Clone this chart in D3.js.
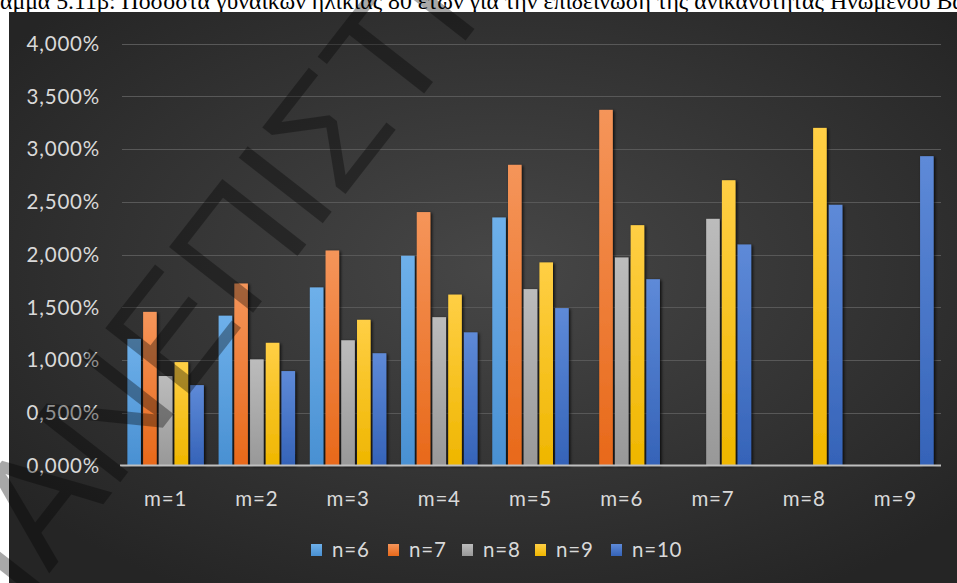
<!DOCTYPE html>
<html><head><meta charset="utf-8">
<script src="https://cdn.jsdelivr.net/npm/d3@7"></script>
<style>html,body{margin:0;padding:0;background:#fff;overflow:hidden}</style>
</head><body>
<svg id="c" width="957" height="583"></svg>
<script>
const categories = ["m=1","m=2","m=3","m=4","m=5","m=6","m=7","m=8","m=9"];
const seriesNames = ["n=6","n=7","n=8","n=9","n=10"];
const n6  = [1.200, 1.420, 1.688, 1.988, 2.351, null, null, null, null];
const n7  = [1.456, 1.725, 2.038, 2.402, 2.850, 3.371, null, null, null];
const n8  = [0.848, 1.006, 1.187, 1.406, 1.672, 1.972, 2.338, null, null];
const n9  = [0.980, 1.163, 1.381, 1.620, 1.925, 2.278, 2.704, 3.200, null];
const n10 = [0.762, 0.895, 1.064, 1.262, 1.492, 1.766, 2.095, 2.471, 2.932];
const yTicks = [0, 0.5, 1, 1.5, 2, 2.5, 3, 3.5, 4];
const seriesValues = [n6, n7, n8, n9, n10];
const colorsTop = ["#6eb0ea","#f5955a","#bcbcbc","#ffcf45","#5e8ad8"];
const colorsBot = ["#4990d2","#e8691a","#989898","#efb600","#3563b8"];
const titleText = "Διάγραμμα 5.11β: Ποσοστά γυναικών ηλικίας 80 ετών για την επιδείνωση της ανικανότητας Ηνωμένου Βασιλείου";
const watermark = "ΠΑΝΕΠΙΣΤΗΜΙΟ ΠΕΙΡΑΙΩΣ";

const svg = d3.select("#c");
const W = 957, H = 583;
const defs = svg.append("defs");
const FONT = "Lato", FS = 20.5, LS = 0.8;

const rg = defs.append("radialGradient").attr("id","bg").attr("cx","52%").attr("cy","45%").attr("r","65%");
rg.append("stop").attr("offset","0%").attr("stop-color","#474747");
rg.append("stop").attr("offset","100%").attr("stop-color","#252525");

seriesNames.forEach((s,i)=>{
  const lg = defs.append("linearGradient").attr("id","g"+i).attr("x1",0).attr("y1",0).attr("x2",0).attr("y2",1);
  lg.append("stop").attr("offset","0%").attr("stop-color",colorsTop[i]);
  lg.append("stop").attr("offset","100%").attr("stop-color",colorsBot[i]);
});
const f = defs.append("filter").attr("id","sh").attr("x","-50%").attr("y","-10%").attr("width","200%").attr("height","120%");
f.append("feDropShadow").attr("dx",1.5).attr("dy",1).attr("stdDeviation",1.8).attr("flood-color","#000").attr("flood-opacity",0.8);

// title (partly hidden at the top, as in the source image)
const tmp = svg.append("text").attr("font-family","Liberation Serif").attr("font-size",20);
tmp.text("αμμα 5.11β: Ποσοστά γυναικών ηλικίας 80 ετών για την επιδείνωση της ανικανότητας Ηνωμένου Β");
const visW = tmp.node().getComputedTextLength();
tmp.text("Διάγρ");
const preW = tmp.node().getComputedTextLength();
tmp.remove();
const fs = 20 * 953 / visW;
svg.append("text").attr("x", -preW*fs/20).attr("y", 8.5)
  .attr("font-family","Liberation Serif").attr("font-size",fs).attr("fill","#000").text(titleText);

svg.append("rect").attr("x",9).attr("y",12).attr("width",W-9).attr("height",H-12).attr("fill","url(#bg)");

const x0 = d3.scaleBand().domain(categories).range([120, 941]);
const x1 = d3.scaleBand().domain(seriesNames).range([7.4, x0.bandwidth()-7.4]).paddingInner(0.14);
const y = d3.scaleLinear().domain([0,4]).range([465.5, 43.5]);

svg.append("g").selectAll("line").data(yTicks.slice(1)).join("line")
  .attr("x1",122).attr("x2",941).attr("y1",d=>Math.round(y(d))+0.5).attr("y2",d=>Math.round(y(d))+0.5)
  .attr("stroke","#585858").attr("stroke-width",1);

const fmt = v => d3.format(".3f")(v).replace(".",",")+"%";
svg.append("g").selectAll("text").data(yTicks).join("text")
  .attr("x",100).attr("y",d=>y(d)).attr("dy","0.36em").attr("text-anchor","end")
  .attr("font-family",FONT).attr("font-size",FS).attr("letter-spacing",LS).attr("fill","#d9d9d9").text(fmt);

const bars = svg.append("g").attr("filter","url(#sh)");
seriesNames.forEach((s,i)=>{
  const data = categories.map((c,j)=>({c, v: seriesValues[i][j]})).filter(d=>d.v!=null);
  bars.append("g").selectAll("rect").data(data).join("rect")
    .attr("x",d=>x0(d.c)+x1(s)).attr("width",x1.bandwidth())
    .attr("y",d=>y(d.v)).attr("height",d=>y(0)-y(d.v))
    .attr("fill","url(#g"+i+")");
});

svg.append("line").attr("x1",120).attr("x2",941).attr("y1",y(0)).attr("y2",y(0))
  .attr("stroke","#bfbfbf").attr("stroke-width",2);

svg.append("g").selectAll("text").data(categories).join("text")
  .attr("x",d=>x0(d)+x0.bandwidth()/2).attr("y",506).attr("text-anchor","middle")
  .attr("font-family",FONT).attr("font-size",FS).attr("letter-spacing",LS).attr("fill","#d9d9d9").text(d=>d);

const lgX = [311, 388, 462, 535, 611];
const leg = svg.append("g");
seriesNames.forEach((s,i)=>{
  leg.append("rect").attr("x",lgX[i]).attr("y",544).attr("width",11).attr("height",12).attr("fill","url(#g"+i+")");
  leg.append("text").attr("x",lgX[i]+21).attr("y",550).attr("dy","0.36em")
    .attr("font-family",FONT).attr("font-size",FS).attr("letter-spacing",LS).attr("fill","#d9d9d9").text(s);
});

svg.append("text").attr("transform","translate(-20,662) rotate(-52)")
  .attr("font-family","Liberation Sans").attr("font-size",155)
  .attr("fill","#000").attr("fill-opacity",0.34).text(watermark);
</script>
</body></html>
